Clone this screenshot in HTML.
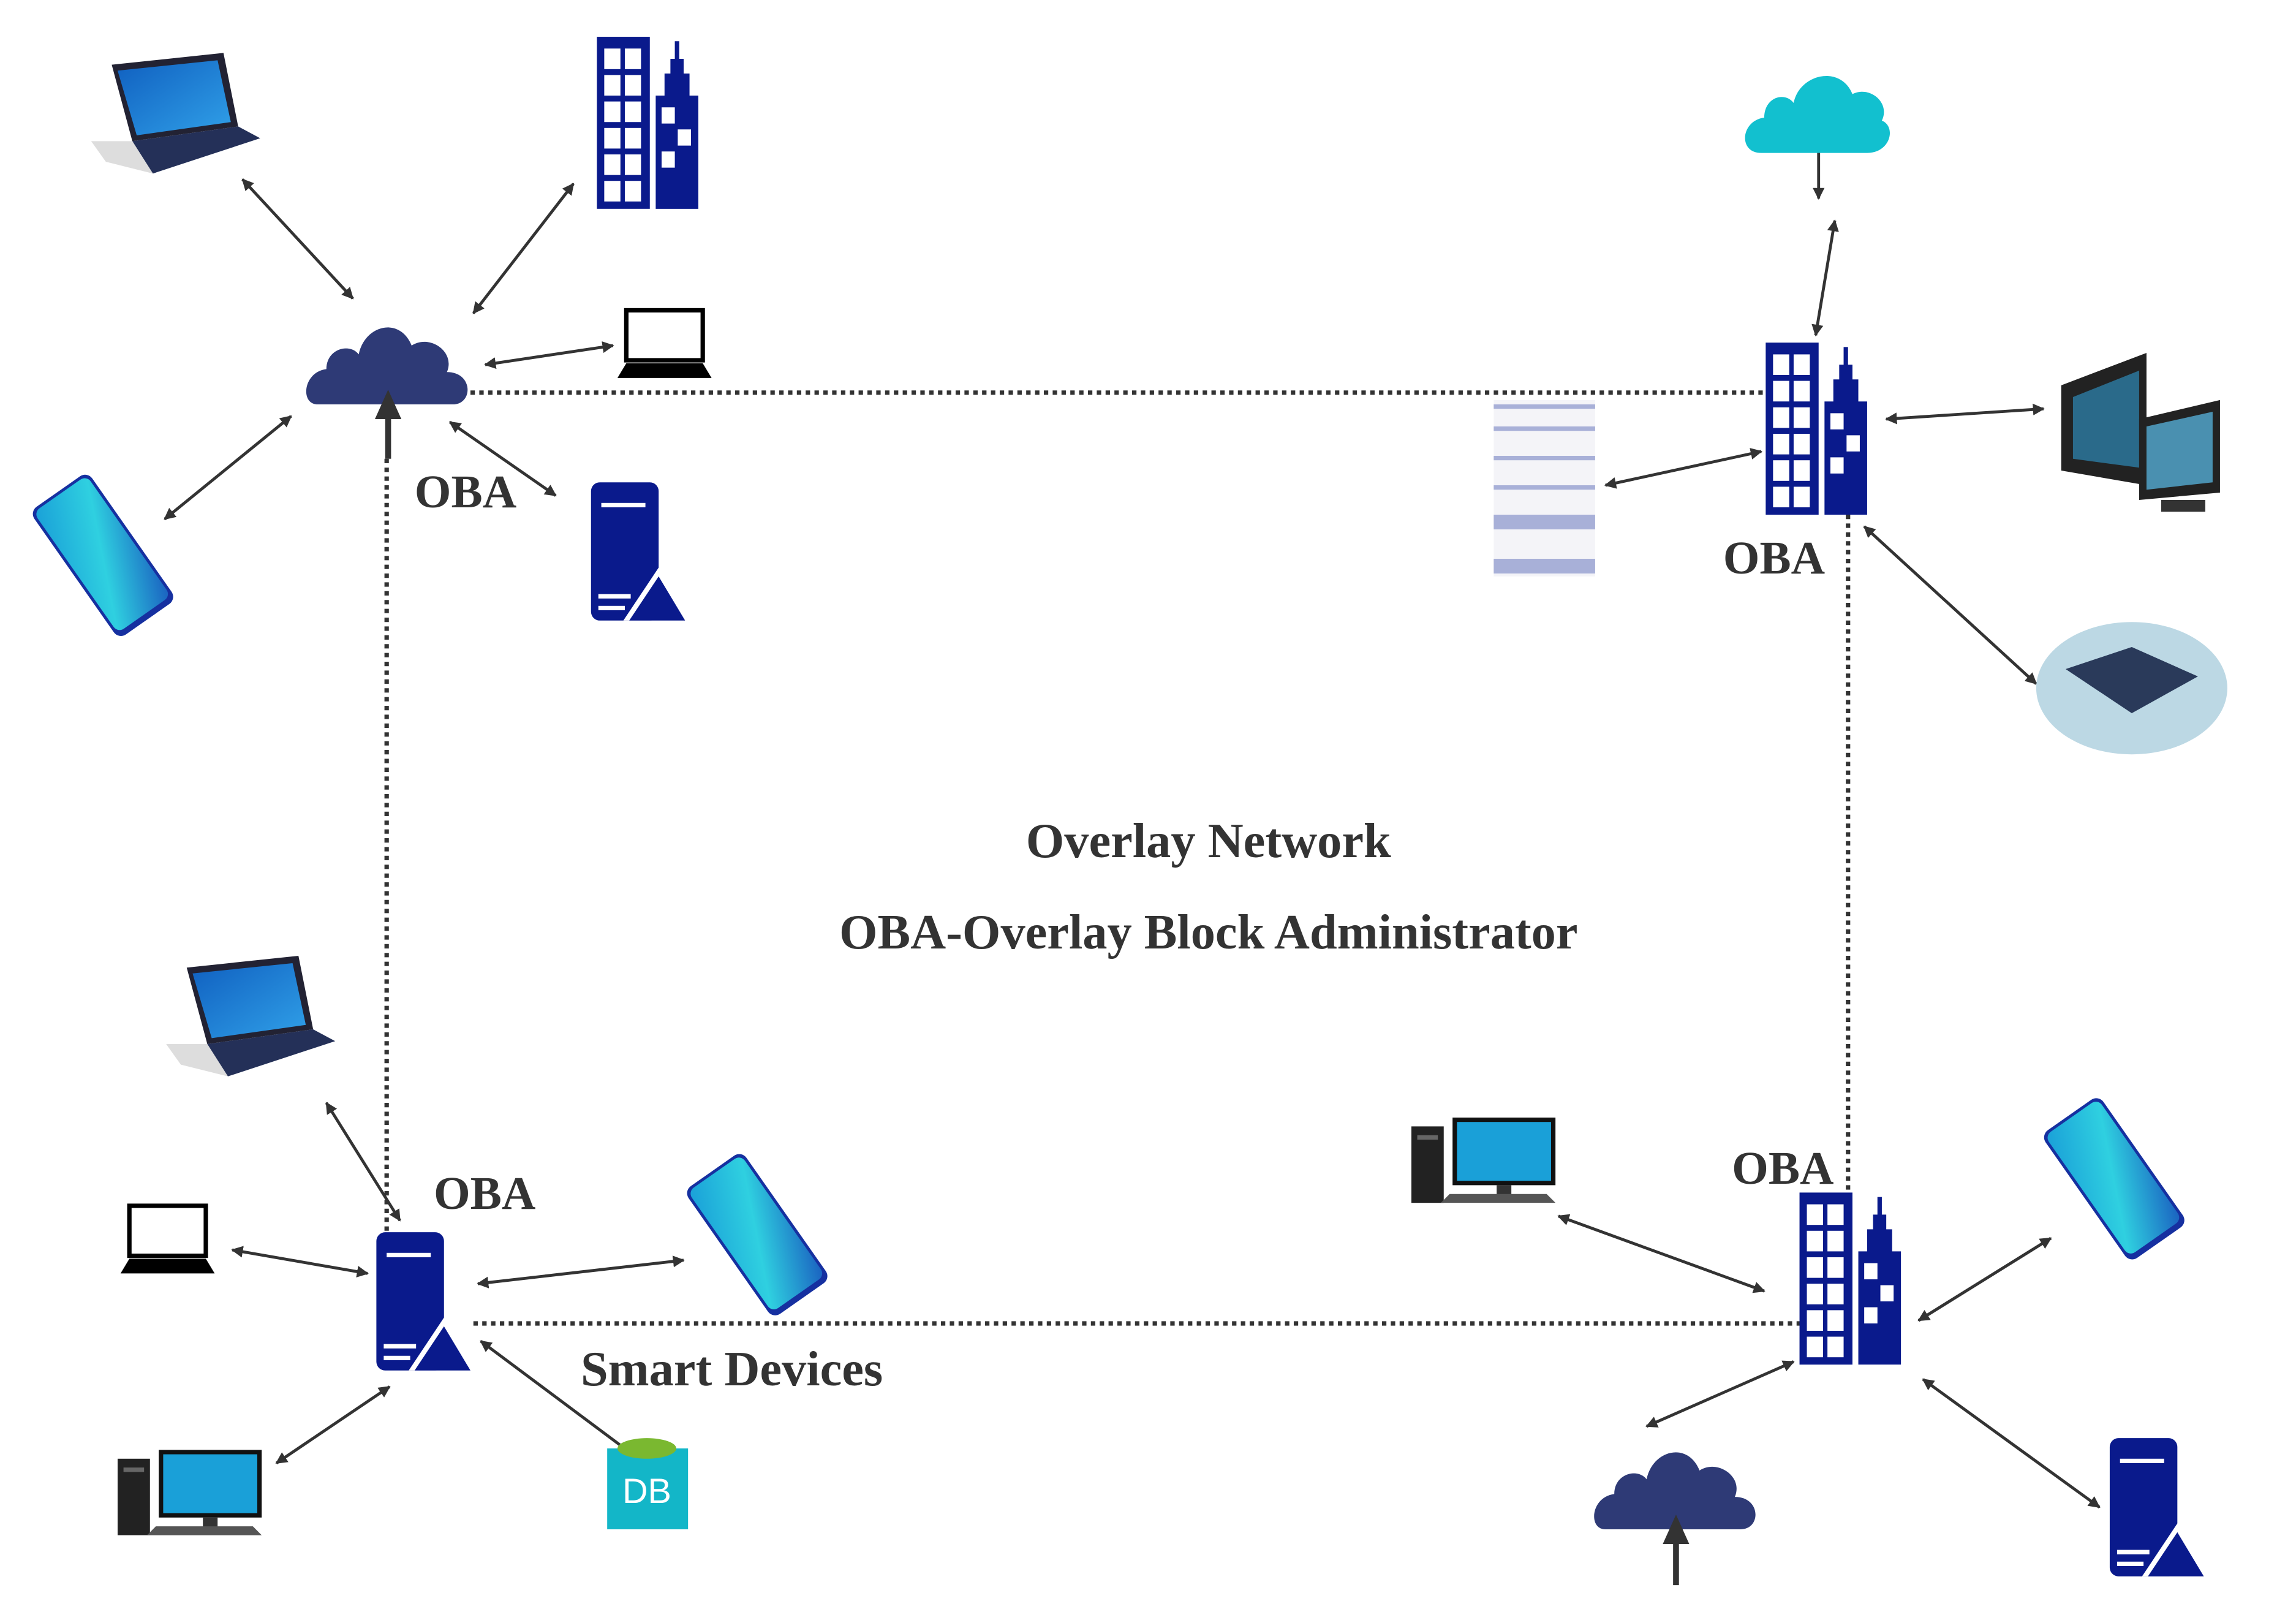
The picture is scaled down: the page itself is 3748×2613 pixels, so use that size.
<!DOCTYPE html>
<html><head><meta charset="utf-8"><style>html,body{margin:0;padding:0;background:#fff}svg{display:block}</style></head><body>
<svg width="3748" height="2613" viewBox="0 0 1561.7 1088.75" xmlns="http://www.w3.org/2000/svg">
<defs>
<marker id="a" viewBox="0 0 10 10" refX="9" refY="5" markerWidth="4" markerHeight="4" orient="auto-start-reverse"><path d="M0,0L10,5L0,10z" fill="#333"/></marker>
<linearGradient id="ph" x1="0" y1="0" x2="1" y2="1"><stop offset="0" stop-color="#1aa0d8"/><stop offset=".5" stop-color="#2fd0e0"/><stop offset="1" stop-color="#1a60c0"/></linearGradient>
<linearGradient id="sc" x1="0" y1="0" x2="1" y2="1"><stop offset="0" stop-color="#1060c0"/><stop offset="1" stop-color="#30a0e8"/></linearGradient>
<g id="bld"><rect x="0" y="0" width="36" height="117" fill="#0a1a8c"/><g fill="#fff"><rect x="5" y="8" width="11" height="14"/><rect x="19" y="8" width="11" height="14"/><rect x="5" y="26" width="11" height="14"/><rect x="19" y="26" width="11" height="14"/><rect x="5" y="44" width="11" height="14"/><rect x="19" y="44" width="11" height="14"/><rect x="5" y="62" width="11" height="14"/><rect x="19" y="62" width="11" height="14"/><rect x="5" y="80" width="11" height="14"/><rect x="19" y="80" width="11" height="14"/><rect x="5" y="98" width="11" height="14"/><rect x="19" y="98" width="11" height="14"/></g><path d="M40,117V40h6V25h4V15h3V3h3V15h3V25h4V40h6V117z" fill="#0a1a8c"/><g fill="#fff"><rect x="44" y="48" width="9" height="11"/><rect x="55" y="63" width="9" height="11"/><rect x="44" y="78" width="9" height="11"/></g></g>
<g id="srv"><rect x="0" y="0" width="46" height="94" rx="6" fill="#0a1a8c"/><rect x="7" y="14" width="30" height="3" fill="#fff"/><rect x="5" y="76" width="22" height="3" fill="#fff"/><rect x="5" y="84" width="18" height="3" fill="#fff"/><path d="M22,94L46,58L66,94z" fill="#fff"/><path d="M26,94L46,64L64,94z" fill="#0a1a8c"/></g>
<g id="cld"><path d="M8,62C-4,62-2,40 14,38C14,24 30,20 36,28C40,8 64,2 72,22C84,14 102,26 96,40C114,40 114,62 100,62Z" fill="#2e3a76"/></g>
<g id="ph1"><g transform="rotate(-35)"><rect x="0" y="0" width="48" height="106" rx="6" fill="#1630a0"/><rect x="2" y="2" width="44" height="100" rx="5" fill="url(#ph)"/></g></g>
<g id="lt"><path d="M14,8L90,0L100,50L28,60z" fill="#223"/><path d="M18,12L86,5L95,47L31,56z" fill="url(#sc)"/><path d="M28,60L100,50L115,58L42,82z" fill="#243058"/><path d="M0,60L28,60L42,82L10,74z" fill="#ddd"/></g>
<g id="slt"><rect x="6" y="0" width="52" height="34" fill="#fff" stroke="#000" stroke-width="3"/><path d="M0,46L6,36H58L64,46z" fill="#000"/></g>
<g id="pc"><rect x="0" y="6" width="22" height="52" fill="#222"/><rect x="4" y="12" width="14" height="3" fill="#666"/><rect x="28" y="0" width="70" height="46" fill="#111"/><rect x="31" y="3" width="64" height="40" fill="#1aa0d8"/><rect x="58" y="46" width="10" height="8" fill="#333"/><path d="M20,58L26,52H92L98,58z" fill="#555"/></g>
</defs>
<g fill="none" stroke="#333" stroke-width="3" stroke-dasharray="3,3">
<line x1="320" y1="267" x2="1202" y2="267"/><line x1="263" y1="312" x2="263" y2="838"/><line x1="1257" y1="350" x2="1257" y2="812"/><line x1="322" y1="900" x2="1225" y2="900"/>
</g>
<g stroke="#333" stroke-width="2" marker-start="url(#a)" marker-end="url(#a)">
<line x1="165" y1="122" x2="240" y2="203"/><line x1="390" y1="125" x2="322" y2="213"/><line x1="330" y1="248" x2="417" y2="235"/><line x1="198" y1="283" x2="112" y2="353"/><line x1="306" y1="287" x2="378" y2="337"/>
<line x1="1198" y1="307" x2="1092" y2="330"/><line x1="1283" y1="285" x2="1390" y2="278"/><line x1="1268" y1="358" x2="1385" y2="465"/><line x1="1237" y1="82" x2="1237" y2="135"/><line x1="1248" y1="150" x2="1235" y2="228"/>
<line x1="222" y1="750" x2="272" y2="830"/><line x1="158" y1="850" x2="250" y2="866"/><line x1="325" y1="873" x2="465" y2="857"/><line x1="265" y1="943" x2="188" y2="995"/><line x1="327" y1="912" x2="445" y2="1000"/>
<line x1="1060" y1="827" x2="1200" y2="878"/><line x1="1395" y1="842" x2="1305" y2="898"/><line x1="1220" y1="926" x2="1120" y2="970"/><line x1="1308" y1="938" x2="1428" y2="1025"/>
</g>
<use href="#lt" x="62" y="36"/><use href="#bld" x="406" y="25"/><use href="#cld" x="208" y="213"/>
<line x1="264" y1="312" x2="264" y2="282" stroke="#333" stroke-width="4"/><path d="M255,285L264,265L273,285z" fill="#333"/>
<use href="#slt" x="420" y="211"/><use href="#ph1" x="20" y="348"/><use href="#srv" x="402" y="328"/>
<path d="M1198,104C1182,104 1184,82 1200,80C1200,66 1214,62 1220,70C1224,50 1252,44 1260,64C1272,58 1286,70 1280,82C1290,86 1286,104 1270,104Z" fill="#12c0cf"/>
<use href="#bld" x="1201" y="233"/>
<g><rect x="1016" y="272" width="69" height="120" fill="#f4f4f8"/><g fill="#a8b0d8"><rect x="1016" y="275" width="69" height="3"/><rect x="1016" y="290" width="69" height="3"/><rect x="1016" y="310" width="69" height="3"/><rect x="1016" y="330" width="69" height="3"/><rect x="1016" y="350" width="69" height="10"/><rect x="1016" y="380" width="69" height="10"/></g></g>
<g><path d="M1402,262L1460,240V330L1402,320z" fill="#222"/><path d="M1410,270L1455,252V318L1410,312z" fill="#2a6a8a"/><path d="M1455,285L1510,272V335L1455,340z" fill="#222"/><path d="M1460,290L1505,280V328L1460,333z" fill="#4a90b0"/><rect x="1470" y="340" width="30" height="8" fill="#333"/></g>
<ellipse cx="1450" cy="468" rx="65" ry="45" fill="#bcd8e4"/><path d="M1405,455L1450,440L1495,460L1450,485z" fill="#2a3a5a"/>
<use href="#lt" x="113" y="650"/><use href="#slt" x="82" y="820"/><use href="#srv" x="256" y="838"/><use href="#ph1" x="465" y="810"/><use href="#pc" x="80" y="986"/>
<g><rect x="413" y="985" width="55" height="55" fill="#13b6c8"/><ellipse cx="440" cy="985" rx="20" ry="7" fill="#7ab830"/><text x="440" y="1022" font-family="Liberation Sans,sans-serif" font-size="24" fill="#fff" text-anchor="middle">DB</text></g>
<use href="#pc" x="960" y="760"/><use href="#bld" x="1224" y="811"/><use href="#ph1" x="1388" y="772"/>
<use href="#cld" x="1084" y="978"/>
<line x1="1140" y1="1078" x2="1140" y2="1048" stroke="#333" stroke-width="4"/><path d="M1131,1050L1140,1030L1149,1050z" fill="#333"/>
<use href="#srv" x="1435" y="978"/>
<g font-family="Liberation Serif,serif" font-weight="bold" fill="#333" font-size="32">
<text x="282" y="345">OBA</text><text x="1172" y="390">OBA</text><text x="295" y="822">OBA</text><text x="1178" y="805">OBA</text>
<text x="395" y="942" font-size="33.5">Smart Devices</text>
<text x="822" y="583" text-anchor="middle" font-size="33.5">Overlay Network</text>
<text x="822" y="645" text-anchor="middle" font-size="33.5">OBA-Overlay Block Administrator</text>
</g>
</svg>
</body></html>
